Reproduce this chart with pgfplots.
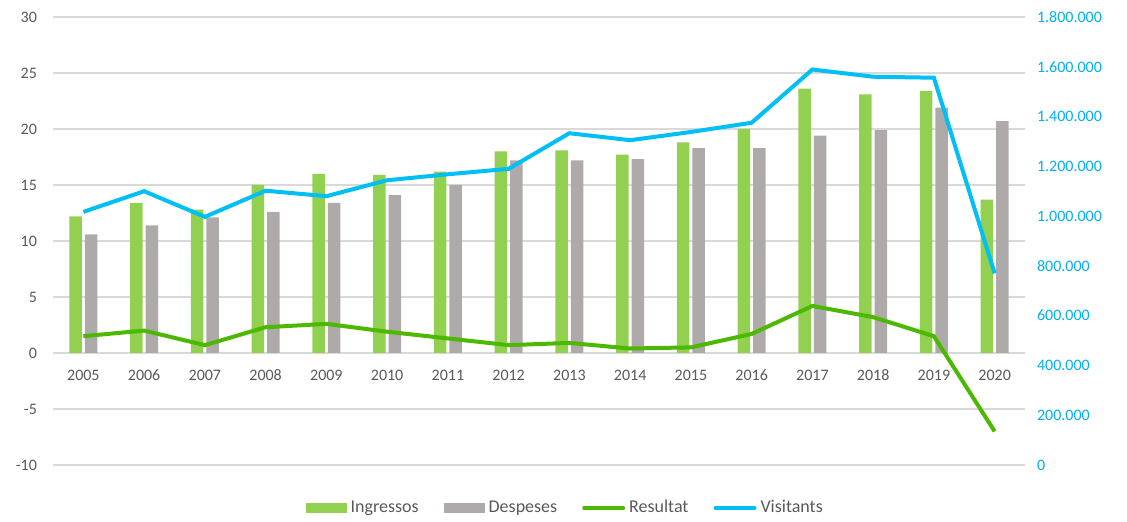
\documentclass[border=0pt]{standalone}
\usepackage{fontspec}
\setmainfont{Carlito}
\usepackage{pgfplots}
\usepackage{pgfplotstable}
\pgfplotsset{compat=1.18}
\pgfplotsset{/pgf/number format/assume math mode=true}

\definecolor{ingr}{HTML}{92D050}
\definecolor{desp}{HTML}{AEAAAA}
\definecolor{res}{HTML}{4CB800}
\definecolor{vis}{HTML}{00BFF5}
\definecolor{vislab}{HTML}{00B0F0}
\definecolor{lab}{HTML}{595959}
\definecolor{grid}{HTML}{D9D9D9}

% milions d'euros
\pgfplotstableread{
x ingr desp res
0  12.2 10.6 1.5
1  13.4 11.4 2.0
2  12.8 12.1 0.7
3  15.0 12.6 2.3
4  16.0 13.4 2.6
5  15.9 14.1 1.9
6  16.2 15.0 1.3
7  18.0 17.2 0.7
8  18.1 17.2 0.9
9  17.7 17.3 0.4
10 18.8 18.3 0.5
11 20.0 18.3 1.7
12 23.6 19.4 4.2
13 23.1 19.9 3.2
14 23.4 21.9 1.5
15 13.7 20.7 -7.0
}\dades

\pgfplotstableread{
x vis
0  1017000
1  1100000
2  997000
3  1102000
4  1080000
5  1144000
6  1168000
7  1190000
8  1333000
9  1305000
10 1338000
11 1375000
12 1589000
13 1560000
14 1556000
15 770000
}\visitants

\begin{document}
\begin{tikzpicture}[font=\fontsize{8}{9.6}\selectfont]
\begin{axis}[
    name=main,
    scale only axis, width=486pt, height=224pt,
    xmin=-0.5, xmax=15.5,
    ymin=-10, ymax=30, ytick distance=5,
    axis x line*=middle, axis y line*=left,
    x axis line style={draw=grid, line width=0.6pt},
    y axis line style={draw=none},
    xtick={0,...,15},
    xticklabels={2005,2006,2007,2008,2009,2010,2011,2012,2013,2014,2015,2016,2017,2018,2019,2020},
    xticklabel style={yshift=-5pt},
    yticklabel style={xshift=-4.5pt},
    tick label style={text=lab},
    major tick length=0,
    ymajorgrids, grid style={draw=grid, line width=0.6pt},
    legend style={at={(0.528,-0.096)}, anchor=center, draw=none, fill=none,
        legend columns=-1, text=lab, font=\fontsize{9}{10.8}\selectfont,
        /tikz/every odd column/.append style={column sep=0pt},
        /tikz/every even column/.append style={column sep=10.5pt}},
    legend cell align=left,
]
\addplot[ybar, bar width=6.25pt, bar shift=-3.9pt, fill=ingr, draw=none,
    area legend, legend image code/.code={\fill[ingr] (0pt,-2.4pt) rectangle (20.5pt,2.4pt);}]
    table[x=x, y=ingr] {\dades};
\addlegendentry{Ingressos}
\addplot[ybar, bar width=6.25pt, bar shift=3.9pt, fill=desp, draw=none,
    area legend, legend image code/.code={\fill[desp] (0pt,-2.4pt) rectangle (20.5pt,2.4pt);}]
    table[x=x, y=desp] {\dades};
\addlegendentry{Despeses}
\addplot[res, line width=2pt, mark=none,
    legend image code/.code={\draw[res, line width=2pt, line cap=round] (1pt,0pt) -- (20.5pt,0pt);}]
    table[x=x, y=res] {\dades};
\addlegendentry{Resultat}
\addlegendimage{vis, line width=2pt,
    legend image code/.code={\draw[vis, line width=2pt, line cap=round] (1pt,0pt) -- (20.5pt,0pt);}}
\addlegendentry{Visitants}
\end{axis}

\begin{axis}[
    scale only axis, width=486pt, height=224pt,
    xmin=-0.5, xmax=15.5,
    ymin=0, ymax=1800000, ytick distance=200000,
    axis x line=none, axis y line*=right,
    y axis line style={draw=none},
    major tick length=0,
    scaled y ticks=false,
    yticklabel style={text=vislab, xshift=2.5pt,
        /pgf/number format/.cd, fixed, precision=0, 1000 sep={.}},
]
\addplot[vis, line width=2pt, mark=none] table[x=x, y=vis] {\visitants};
\end{axis}

% same margins as the reference image
\pgfresetboundingbox
\path[use as bounding box] ([xshift=-26.5pt, yshift=8.5pt]main.north west)
    rectangle ([xshift=51pt, yshift=-28.5pt]main.south east);
\end{tikzpicture}
\end{document}
